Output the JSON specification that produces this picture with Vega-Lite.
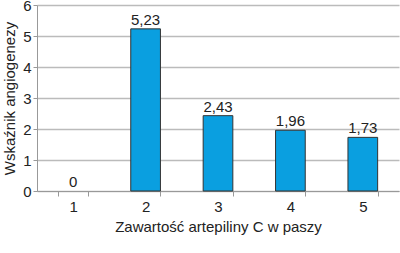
{
  "$schema": "https://vega.github.io/schema/vega-lite/v6.json",
  "autosize": "none",
  "width": 362,
  "height": 186,
  "padding": {"left": 37, "top": 5, "right": 1, "bottom": 62},
  "background": "white",
  "config": {
    "view": {"stroke": null},
    "locale": {"number": {"decimal": ",", "thousands": " ", "grouping": [3], "currency": ["", " zł"]}},
    "font": "Liberation Sans",
    "axis": {"labelFont": "Liberation Sans", "titleFont": "Liberation Sans", "labelColor": "#222", "titleColor": "#222", "titleFontWeight": "normal"}
  },
  "data": {"values": [
    {"grupa": "1", "wskaznik": 0},
    {"grupa": "2", "wskaznik": 5.23},
    {"grupa": "3", "wskaznik": 2.43},
    {"grupa": "4", "wskaznik": 1.96},
    {"grupa": "5", "wskaznik": 1.73}
  ]},
  "encoding": {
    "x": {
      "field": "grupa", "type": "ordinal",
      "scale": {"paddingInner": 0.59, "paddingOuter": 0.295},
      "axis": {"title": "Zawartość artepiliny C w paszy", "labelAngle": 0, "labelFontSize": 15, "titleFontSize": 15, "tickBand": "extent", "domainColor": "#999", "tickColor": "#999", "tickSize": 5, "labelPadding": 3, "titlePadding": 5}
    },
    "y": {
      "field": "wskaznik", "type": "quantitative",
      "scale": {"domain": [0, 6]},
      "axis": {"title": "Wskaźnik angiogenezy", "values": [0,1,2,3,4,5,6], "labelOverlap": false, "labelFontSize": 15, "titleFontSize": 15, "domainColor": "#999", "tickColor": "#999", "tickSize": 4, "gridColor": "#bbb", "gridWidth": 1.5, "labelPadding": 2, "titlePadding": 5}
    }
  },
  "layer": [
    {"mark": {"type": "bar", "color": "#0a9fe0", "stroke": "#333", "strokeWidth": 1},
     "encoding": {"strokeOpacity": {"condition": {"test": "datum.wskaznik == 0", "value": 0}, "value": 1}}},
    {"mark": {"type": "text", "dy": -9, "fontSize": 15, "color": "#222"},
     "encoding": {"text": {"field": "wskaznik", "type": "quantitative", "format": ".2~f"}}}
  ]
}
